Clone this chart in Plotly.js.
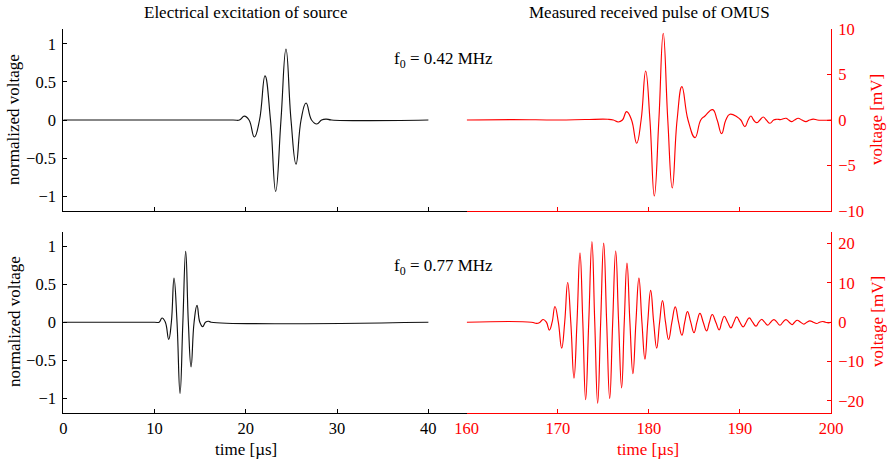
<!DOCTYPE html>
<html>
<head>
<meta charset="utf-8">
<script src="https://cdn.plot.ly/plotly-3.0.1.min.js"></script>
<style>html,body{margin:0;padding:0;background:#fff;}#chart{width:887px;height:462px;}</style>
</head>
<body>
<div id="chart"></div>
<script>
// ---- Data ----
// Top-left: electrical excitation, f0 = 0.42 MHz (time in µs, normalized voltage)
const exc1_t = [0, 18.6, 19.3, 19.84, 20.35, 20.93, 21.5, 22.1, 22.7, 23.27, 23.85, 24.4, 24.95, 25.5, 26.05, 26.6, 27.2, 27.77, 28.3, 28.8, 29.4, 40];
const exc1_v = [0, 0, 0, 0.05, 0, -0.223, 0, 0.58, 0, -0.937, 0, 0.932, 0, -0.58, 0, 0.223, 0, -0.052, 0, 0.012, 0, 0];

// Bottom-left: electrical excitation, f0 = 0.77 MHz
const exc2_t = [0, 10.0, 10.5, 10.82, 11.18, 11.55, 11.84, 12.13, 12.46, 12.79, 13.1, 13.41, 13.7, 14.0, 14.33, 14.65, 14.96, 15.27, 15.58, 15.9, 16.2, 40];
const exc2_v = [0, 0, 0, 0.055, 0, -0.225, 0, 0.58, 0, -0.937, 0, 0.932, 0, -0.587, 0, 0.222, 0, -0.058, 0, 0.012, 0, 0];

// Top-right: measured received pulse, f0 = 0.42 MHz (time in µs, mV)
const rx1_t = [160, 165, 170, 173, 175.5, 176.1, 176.64, 177.1, 177.56, 178.1, 178.66, 179.15, 179.65, 180.12, 180.6, 181.1, 181.58, 182.08, 182.57, 183.1, 183.63, 184.3, 185.07, 185.7, 186.16, 187.0, 187.5, 187.99, 188.45, 188.9, 189.7, 190.1, 190.55, 190.9, 191.2, 191.5, 191.83, 192.2, 192.56, 192.9, 193.3, 193.7, 194.03, 194.5, 195.05, 195.35, 195.67, 196.0, 196.4, 196.8, 197.25, 197.65, 198.05, 198.5, 198.97, 200];
const rx1_v = [0, 0.05, 0, 0.05, 0.08, 0, -0.22, 0, 0.92, 0, -2.56, 0, 5.38, 0, -8.35, 0, 9.53, 0, -7.47, 0, 3.67, 0, -1.93, 0, 0.44, 1.14, 0, -1.5, 0, 0.63, 0.33, 0, -0.73, 0, 0.44, 0, -0.29, 0, 0.33, 0, -0.36, 0, 0.08, 0.05, 0.19, 0, -0.18, 0, 0.19, 0, -0.18, 0, 0.1, 0, -0.03, 0];

// Bottom-right: measured received pulse, f0 = 0.77 MHz
const rx2_t = [160, 167.1, 167.68, 168.05, 168.4, 168.75, 169.07, 169.38, 169.69, 170.06, 170.43, 170.76, 171.09, 171.43, 171.78, 172.11, 172.44, 172.75, 173.06, 173.4, 173.75, 174.06, 174.38, 174.71, 175.04, 175.37, 175.7, 176.03, 176.36, 176.68, 177.01, 177.3, 177.6, 177.92, 178.25, 178.58, 178.91, 179.24, 179.57, 179.88, 180.2, 180.53, 180.86, 181.18, 181.5, 181.83, 182.17, 182.53, 182.9, 183.26, 183.63, 183.94, 184.24, 184.6, 184.96, 185.28, 185.61, 185.97, 186.34, 186.65, 186.96, 187.35, 187.73, 188.0, 188.28, 188.65, 189.01, 189.33, 189.64, 190.0, 190.36, 190.69, 191.02, 191.39, 191.76, 192.07, 192.38, 192.71, 193.04, 193.38, 193.73, 194.06, 194.39, 194.72, 195.05, 195.4, 195.74, 196.0, 196.29, 196.66, 197.03, 197.35, 197.68, 198.05, 198.42, 198.75, 199.08, 199.4, 199.7, 200];
const rx2_v = [0, 0, -0.3, 0, 0.7, 0, -2.0, 0, 4.0, 0, -6.6, 0, 10.1, 0, -14.2, 0, 17.6, 0, -19.7, 0, 20.5, 0, -20.6, 0, 20.1, 0, -19.4, 0, 18.1, 0, -16.7, 0, 15.0, 0, -13.1, 0, 11.2, 0, -9.4, 0, 8.1, 0, -6.6, 0, 5.5, 0, -4.4, 0, 3.9, 0, -3.3, 0, 2.7, 0, -2.65, 0, 2.25, 0, -2.2, 0, 1.95, 0, -1.95, 0, 1.5, 0, -1.43, 0, 1.35, 0, -1.18, 0, 1.1, 0, -1.0, 0, 0.7, 0, -0.76, 0, 0.67, 0, -0.76, 0, 0.67, 0, -0.6, 0, 0.5, 0, -0.5, 0, 0.33, 0, -0.33, 0, 0.17, 0, -0.17, 0];

// Tick labels
const leftXTicks = [0, 10, 20, 30, 40];
const rightXTicks = [160, 170, 180, 190, 200];
const leftYTicks = [-1, -0.5, 0, 0.5, 1];
const leftYLabels = ['−1', '−0.5', '0', '0.5', '1'];
const topRightYTicks = [-10, -5, 0, 5, 10];
const botRightYTicks = [-20, -10, 0, 10, 20];

// ---- Styling ----
const W = 887, H = 462;
const FONT = "'Liberation Serif', serif";
const FS = 16.5;
const FT = 17;
const RED = '#ff0000';
const BLK = '#000000';
const px = v => v / W;
const py = v => 1 - v / H;

const leftDom = [px(63.3), px(466.7)];
const rightDom = [px(466.7), px(831)];
const topDom = [py(211), py(29)];
const botDom = [py(412.7), py(231.7)];

const lineStyle = c => ({color: c, width: 1.15, shape: 'spline', smoothing: 1.3});

const traces = [
  {x: exc1_t, y: exc1_v, xaxis: 'x', yaxis: 'y', mode: 'lines', line: lineStyle('#111')},
  {x: rx1_t, y: rx1_v, xaxis: 'x2', yaxis: 'y2', mode: 'lines', line: lineStyle(RED)},
  {x: exc2_t, y: exc2_v, xaxis: 'x3', yaxis: 'y3', mode: 'lines', line: lineStyle('#111')},
  {x: rx2_t, y: rx2_v, xaxis: 'x4', yaxis: 'y4', mode: 'lines', line: lineStyle(RED)}
];

function xax(dom, range, ticks, color, labels, anchor) {
  return {
    domain: dom, range: range, anchor: anchor,
    tickmode: 'array', tickvals: ticks, ticktext: ticks.map(String),
    showticklabels: labels, ticks: 'inside', ticklen: 4, tickwidth: 1, tickcolor: color,
    showline: true, linecolor: color, linewidth: 1, mirror: false,
    showgrid: false, zeroline: false,
    tickfont: {family: FONT, size: FS, color: color},
    ticklabelstandoff: 0, fixedrange: true
  };
}
function yax(dom, range, ticks, text, color, side, anchor) {
  return {
    domain: dom, range: range, anchor: anchor, side: side,
    tickmode: 'array', tickvals: ticks, ticktext: text,
    ticks: 'inside', ticklen: 4, tickwidth: 1, tickcolor: color,
    showline: true, linecolor: color, linewidth: 1, mirror: false,
    showgrid: false, zeroline: false,
    tickfont: {family: FONT, size: FS, color: color},
    ticklabelstandoff: 3, fixedrange: true
  };
}

const negText = arr => arr.map(v => (v < 0 ? '−' + Math.abs(v) : String(v)));

function ann(text, x, y, color, angle, xanchor) {
  return {text: text, x: x, y: y, xref: 'paper', yref: 'paper', showarrow: false,
          xanchor: xanchor || 'center', yanchor: 'middle', textangle: angle || 0,
          font: {family: FONT, size: FT, color: color}};
}

const layout = {
  width: W, height: H,
  margin: {l: 0, r: 0, t: 0, b: 0},
  paper_bgcolor: '#ffffff', plot_bgcolor: 'rgba(0,0,0,0)',
  showlegend: false,
  font: {family: FONT, size: FS},
  xaxis: xax(leftDom, [0, 44.2], leftXTicks, BLK, false, 'y'),
  yaxis: yax(topDom, [-1.195, 1.195], leftYTicks, leftYLabels, BLK, 'left', 'x'),
  xaxis2: xax(rightDom, [160, 200], rightXTicks, RED, false, 'y2'),
  yaxis2: yax(topDom, [-10, 10], topRightYTicks, negText(topRightYTicks), RED, 'right', 'x2'),
  xaxis3: xax(leftDom, [0, 44.2], leftXTicks, BLK, true, 'y3'),
  yaxis3: yax(botDom, [-1.19, 1.19], leftYTicks, leftYLabels, BLK, 'left', 'x3'),
  xaxis4: xax(rightDom, [160, 200], rightXTicks, RED, true, 'y4'),
  yaxis4: yax(botDom, [-23, 23], botRightYTicks, negText(botRightYTicks), RED, 'right', 'x4'),
  annotations: [
    ann('Electrical excitation of source', px(245.5), py(13), BLK),
    ann('Measured received pulse of OMUS', px(649), py(13), BLK),
    ann('normalized voltage', px(14), py(120), BLK, -90),
    ann('normalized voltage', px(14), py(322), BLK, -90),
    ann('voltage [mV]', px(877), py(120), RED, -90),
    ann('voltage [mV]', px(877), py(322), RED, -90),
    ann('time [µs]', px(246), py(449), BLK),
    ann('time [µs]', px(648), py(449), RED),
    ann('f<sub>0</sub> = 0.42 MHz', px(392), py(60), BLK, 0, 'left'),
    ann('f<sub>0</sub> = 0.77 MHz', px(392), py(267), BLK, 0, 'left')
  ]
};

Plotly.newPlot('chart', traces, layout, {staticPlot: true, displayModeBar: false});
</script>
</body>
</html>
